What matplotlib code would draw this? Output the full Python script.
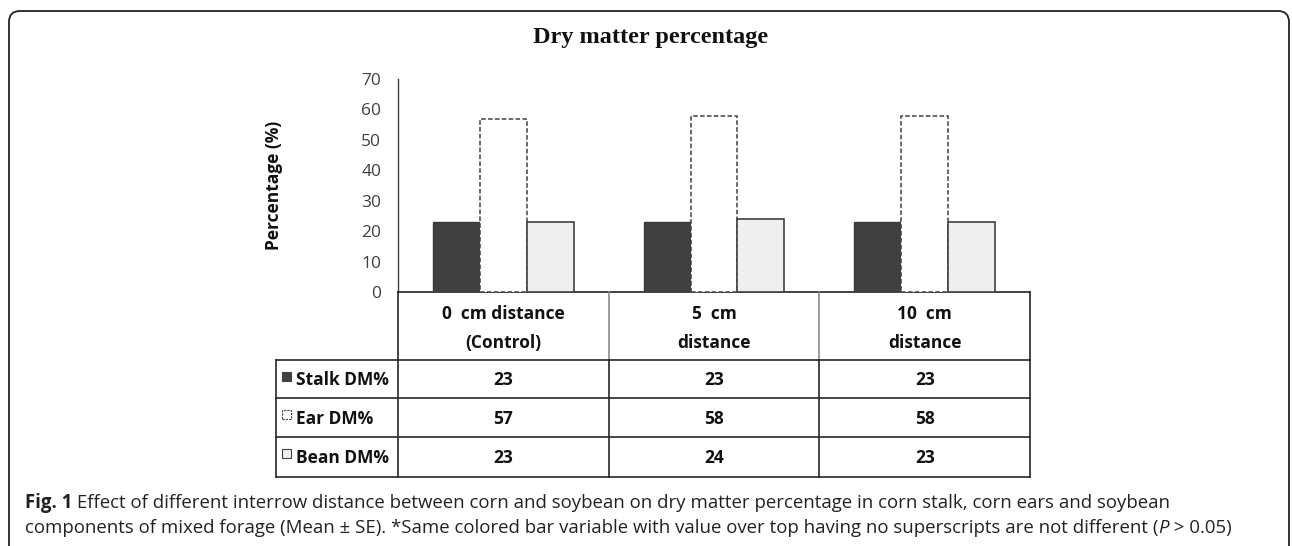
import matplotlib
matplotlib.use("Agg")
import matplotlib.pyplot as plt
import numpy as np
from matplotlib import font_manager
from matplotlib.patches import Rectangle, FancyBboxPatch
from matplotlib.lines import Line2D
from matplotlib.transforms import blended_transform_factory, IdentityTransform

# ---------------- data ----------------
categories = ["0  cm distance\n(Control)", "5  cm\ndistance", "10  cm\ndistance"]
series_names = ["Stalk DM%", "Ear DM%", "Bean DM%"]
stalk_dm = [23, 23, 23]
ear_dm = [57, 58, 58]
bean_dm = [23, 24, 23]
yticks = [0, 10, 20, 30, 40, 50, 60, 70]
title = "Dry matter percentage"
ylabel = "Percentage (%)"
caption_line1 = [("Fig. 1", "bold", "normal"),
                 (" Effect of different interrow distance between corn and soybean on dry matter percentage in corn stalk, corn ears and soybean", "normal", "normal")]
caption_line2 = [("components of mixed forage (Mean \u00b1 SE). *Same colored bar variable with value over top having no superscripts are not different (", "normal", "normal"),
                 ("P", "normal", "italic"),
                 (" > 0.05)", "normal", "normal")]

W, H = 1292, 546
avail = {f.name for f in font_manager.fontManager.ttflist}
sans = "Open Sans" if "Open Sans" in avail else "DejaVu Sans"
cap_font = sans
serif = "Liberation Serif" if "Liberation Serif" in avail else "DejaVu Serif"

fig = plt.figure(figsize=(W / 100, H / 100), dpi=100)
fig.patch.set_facecolor("white")

def fy(py):  # pixel from top -> figure fraction
    return 1 - py / H

def fx(px):
    return px / W

ax_left, ax_right, ax_top, ax_bot = 398, 1030, 79, 292
ax = fig.add_axes([fx(ax_left), fy(ax_bot), (ax_right - ax_left) / W, (ax_bot - ax_top) / H])

x = np.arange(len(categories))
w = 0.223
dark = "#404040"
ax.bar(x - w, stalk_dm, w, color=dark, edgecolor="#3a3a3a", linewidth=1.0, zorder=3)
ax.bar(x, ear_dm, w, color="white", edgecolor="#404040", linewidth=1.1, linestyle=(0, (3, 1.5)), zorder=3)
ax.bar(x + w, bean_dm, w, color="#efefef", edgecolor="#404040", linewidth=1.2, zorder=3)

ax.set_xlim(-0.5, len(categories) - 0.5)
ax.set_ylim(0, 70)
ax.set_yticks(yticks)
ax.set_xticks([])
ax.tick_params(axis="y", length=0, pad=12, labelsize=12.5, labelcolor="#404040")
for lab in ax.get_yticklabels():
    lab.set_fontfamily(sans)
for s in ["top", "right"]:
    ax.spines[s].set_visible(False)
ax.spines["left"].set_color("#404040")
ax.spines["left"].set_linewidth(1.0)
ax.spines["bottom"].set_color("#222222")
ax.spines["bottom"].set_linewidth(1.2)
ax.set_ylabel(ylabel, fontsize=12.5, fontweight="bold", family=sans, color="#111111")
ax.yaxis.set_label_coords((283 - ax_left) / (ax_right - ax_left), 0.5)

# title
fig.text(fx(651), fy(37), title, ha="center", va="center", fontsize=17.5,
         fontweight="bold", family=serif, color="#111111")

# ---------------- table ----------------
bt = blended_transform_factory(ax.transData, fig.transFigure)
edges = np.arange(len(categories) + 1) - 0.5
head_top, head_bot = 292, 360
row_edges = [360, 398, 437, 477]
tab_left = 276
line_c = "#262626"
lw = 1.2

for i, e in enumerate(edges):
    inner = 0 < i < len(edges) - 1
    fig.add_artist(Line2D([e, e], [fy(head_top), fy(head_bot)], transform=bt,
                          color=("#8a8a8a" if inner else line_c), lw=lw))
    fig.add_artist(Line2D([e, e], [fy(head_bot), fy(row_edges[-1])], transform=bt,
                          color=line_c, lw=lw))
for i, r in enumerate(row_edges):
    fig.add_artist(Line2D([fx(tab_left), fx(ax_right)], [fy(r), fy(r)], color=line_c, lw=lw))
fig.add_artist(Line2D([fx(tab_left), fx(tab_left)], [fy(row_edges[0]), fy(row_edges[-1])], color=line_c, lw=lw))

for i, c in enumerate(categories):
    l1, l2 = c.split("\n")
    fig.text(i, fy(314), l1, transform=bt, ha="center", va="center", fontsize=12.5,
             fontweight="bold", family=sans, color="#111111")
    fig.text(i, fy(343), l2, transform=bt, ha="center", va="center", fontsize=12.5,
             fontweight="bold", family=sans, color="#111111")

series = [stalk_dm, ear_dm, bean_dm]
styles = [dict(facecolor=dark, edgecolor=dark, linestyle="-"),
          dict(facecolor="white", edgecolor="#404040", linestyle=(0, (2, 1))),
          dict(facecolor="#efefef", edgecolor="#404040", linestyle="-")]
for k, (name, vals) in enumerate(zip(series_names, series)):
    top, bot = row_edges[k], row_edges[k + 1]
    cy = (top + bot) / 2 + 1
    sq = Rectangle((fx(282), fy(top + 21)), 9 / W, 9 / H, transform=fig.transFigure,
                   linewidth=0.8, **styles[k])
    fig.add_artist(sq)
    fig.text(fx(296), fy(cy), name, ha="left", va="center", fontsize=12.5,
             fontweight="bold", family=sans, color="#111111")
    for i, v in enumerate(vals):
        fig.text(i, fy(cy), f"{v}", transform=bt, ha="center", va="center", fontsize=12.5,
                 fontweight="bold", family=sans, color="#111111")

# ---------------- frame ----------------
frame = FancyBboxPatch((9, -30), 1289 - 9, (H - 11) + 30,
                       boxstyle="round,pad=0,rounding_size=11", transform=IdentityTransform(),
                       facecolor="none", edgecolor="#222222", linewidth=1.3)
fig.add_artist(frame)

# ---------------- caption ----------------
renderer = fig.canvas.get_renderer()

def draw_line(pieces, x0, ypix, size):
    xcur = x0
    for txt, weight, style in pieces:
        t = fig.text(xcur, H - ypix, txt, transform=IdentityTransform(), ha="left", va="center",
                     fontsize=size, fontweight=weight, fontstyle=style, family=cap_font, color="#222222")
        bb = t.get_window_extent(renderer)
        xcur = bb.x1
    return xcur

draw_line(caption_line1, 25, 503, 13.4)
draw_line(caption_line2, 25, 528, 13.4)

fig.savefig("out.png", dpi=100)
